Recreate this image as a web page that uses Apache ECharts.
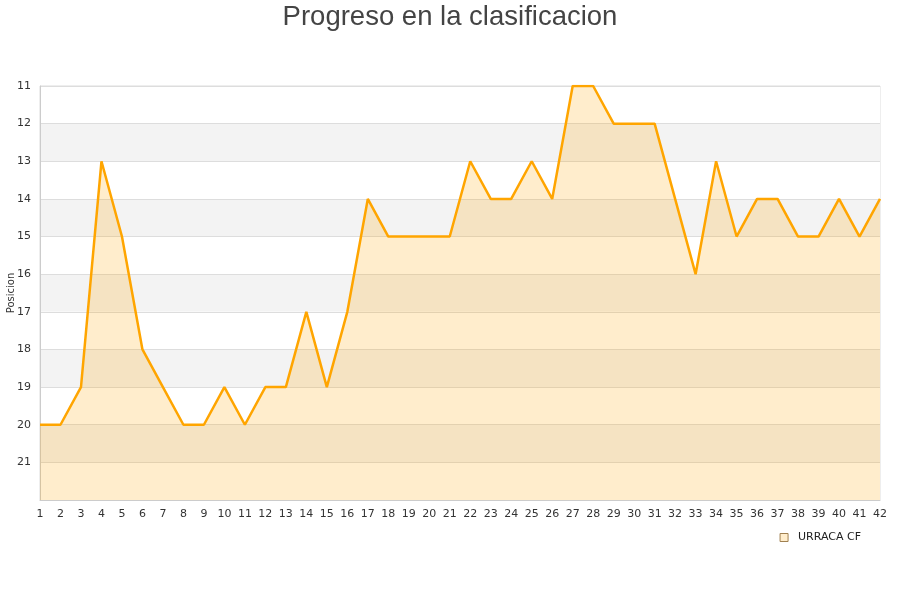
<!DOCTYPE html>
<html><head><meta charset="utf-8">
<script src="https://cdn.jsdelivr.net/npm/echarts@6/dist/echarts.min.js"></script>
<style>html,body{margin:0;padding:0;background:#fff}#c{width:900px;height:600px}</style>
</head><body><div id="c"></div>
<script>
const titleText = 'Progreso en la clasificacion';
const yAxisName = 'Posicion';
const seriesName = 'URRACA CF';
const jornadas = ['1','2','3','4','5','6','7','8','9','10','11','12','13','14','15','16','17','18','19','20','21','22','23','24','25','26','27','28','29','30','31','32','33','34','35','36','37','38','39','40','41','42'];
const posiciones = [20,20,19,13,15,18,19,20,20,19,20,19,19,17,19,17,14,15,15,15,15,13,14,14,13,14,11,11,12,12,12,14,16,13,15,14,14,15,15,14,15,14];
const yMin = 11, yMax = 22;

const chart = echarts.init(document.getElementById('c'));
chart.setOption({
  animation: false,
  backgroundColor: '#fff',
  title: { text: titleText, left: 'center', top: -2,
    textStyle: { fontFamily: 'Liberation Sans, Arial, sans-serif', fontSize: 27.5, fontWeight: 'normal', color: '#444' } },
  legend: { right: 34, top: 527, icon: 'rect', itemWidth: 8, itemHeight: 8, itemGap: 10,
    textStyle: { fontFamily: 'DejaVu Sans, sans-serif', fontSize: 11, color: '#222', padding: [0,0,0,5] },
    data: [{ name: seriesName, itemStyle: { color: '#ffedcc', borderColor: '#a08050', borderWidth: 1 } }] },
  graphic: [{ type: 'text', x: 11, y: 293, rotation: Math.PI / 2,
    style: { text: yAxisName, fill: '#333', font: '10px "DejaVu Sans", sans-serif', align: 'center', verticalAlign: 'middle' } }],
  grid: { left: 40, right: 20, top: 86, bottom: 100, containLabel: false, outerBoundsMode: 'none',
    show: true, borderColor: '#ddd', borderWidth: 1, backgroundColor: 'transparent' },
  xAxis: { type: 'category', data: jornadas, boundaryGap: false,
    axisLine: { lineStyle: { color: '#ccc' } }, axisTick: { show: false },
    axisLabel: { fontFamily: 'DejaVu Sans, sans-serif', fontSize: 11, color: '#333', margin: 9, interval: 0 },
    splitLine: { show: false } },
  yAxis: { type: 'value', inverse: true, min: yMin, max: yMax, interval: 1,
    axisLine: { show: true, lineStyle: { color: '#ccc' } }, axisTick: { show: false },
    axisLabel: { fontFamily: 'DejaVu Sans, sans-serif', fontSize: 11, color: '#333', margin: 9,
      formatter: v => (v === yMax ? '' : v) },
    splitLine: { show: true, lineStyle: { color: '#ddd' } },
    splitArea: { show: true, areaStyle: { color: ['#ffffff', '#f3f3f3'] } } },
  series: [{ name: seriesName, type: 'line', data: posiciones, symbol: 'none',
    lineStyle: { color: '#ffa500', width: 2.5 },
    itemStyle: { color: '#ffa500' },
    areaStyle: { color: 'rgba(255,165,0,0.2)', opacity: 1, origin: 'end' } }]
});
</script></body></html>
